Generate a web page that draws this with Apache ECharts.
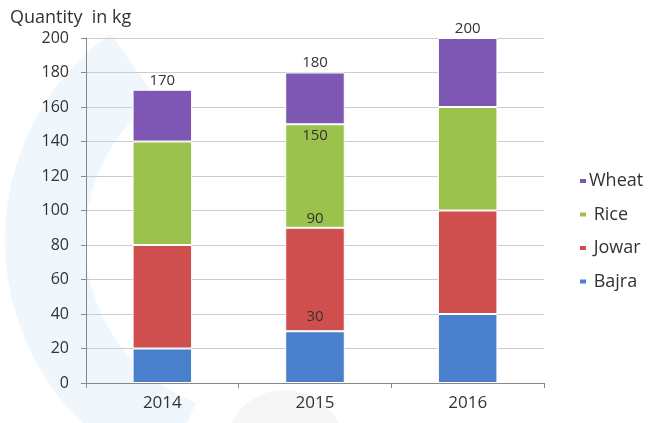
<!DOCTYPE html>
<html>
<head>
<meta charset="utf-8">
<script src="https://cdn.jsdelivr.net/npm/echarts@6/dist/echarts.min.js"></script>
<style>html,body{margin:0;padding:0;background:#fff;}#c{width:655px;height:423px;}</style>
</head>
<body>
<div id="c"></div>
<script>
var years = ['2014', '2015', '2016'];
var bajra = [20, 30, 40];
var jowar = [60, 60, 60];
var rice = [60, 60, 60];
var wheat = [30, 30, 40];
var totals = [170, 180, 200];
var yTicks = [0, 20, 40, 60, 80, 100, 120, 140, 160, 180, 200];

var font = 'Open Sans, Noto Sans, sans-serif';
var chart = echarts.init(document.getElementById('c'), null, {renderer: 'canvas'});

function cum(idx, arrs) { var s = 0; arrs.forEach(function(a){ s += a[idx]; }); return s; }

var labelStyle = {color: '#333', fontSize: 15, fontFamily: font};

var bajraData = bajra.map(function(v, i){
  if (i === 1) return {value: v, label: Object.assign({show: true, position: 'top', distance: 7, formatter: String(cum(i,[bajra]))}, labelStyle)};
  return v;
});
var jowarData = jowar.map(function(v, i){
  if (i === 1) return {value: v, label: Object.assign({show: true, position: 'top', distance: 2, formatter: String(cum(i,[bajra,jowar]))}, labelStyle)};
  return v;
});
var riceData = rice.map(function(v, i){
  if (i === 1) return {value: v, label: Object.assign({show: true, position: 'insideTop', distance: 4, formatter: String(cum(i,[bajra,jowar,rice]))}, labelStyle)};
  return v;
});
var wheatData = wheat.map(function(v, i){
  return {value: v, label: Object.assign({show: true, position: 'top', distance: 2, formatter: String(totals[i])}, labelStyle)};
});

var itemBorder = {borderColor: '#fff', borderWidth: 1};

chart.setOption({
  animation: false,
  backgroundColor: '#fff',
  graphic: [
    {type: 'arc', silent: true, z: -10, shape: {cx: 260, cy: 240, r: 215, startAngle: Math.PI*0.62, endAngle: Math.PI*1.3},
     style: {stroke: 'rgba(225,238,250,0.55)', lineWidth: 80, fill: null}},
    {type: 'circle', silent: true, z: -10, shape: {cx: 285, cy: 450, r: 60},
     style: {fill: 'rgba(240,240,242,0.6)'}}
  ],
  title: {
    text: 'Quantity  in kg', left: 5, top: 4,
    textStyle: {fontSize: 18, fontWeight: 'normal', color: '#333', fontFamily: font}
  },
  legend: {
    orient: 'vertical', left: 573, top: 166, itemGap: 13.5,
    itemWidth: 8, itemHeight: 6, icon: 'rect',
    data: ['Wheat', 'Rice', 'Jowar', 'Bajra'],
    formatter: function(n){ return n === 'Wheat' ? n : ' ' + n; },
    textStyle: {fontSize: 18, color: '#333', fontFamily: font, padding: [0,0,0,-3], lineHeight: 20}
  },
  grid: {left: 86, right: 111, top: 38, bottom: 40, containLabel: false},
  xAxis: {
    type: 'category', data: years,
    axisLine: {lineStyle: {color: '#888'}},
    axisTick: {show: true, alignWithLabel: false, lineStyle: {color: '#888'}, length: 5},
    axisLabel: {fontSize: 17, color: '#333', fontFamily: font, margin: 12}
  },
  yAxis: {
    type: 'value', min: 0, max: 200, interval: 20,
    axisLine: {show: true, lineStyle: {color: '#888'}},
    axisTick: {show: true, length: 5, lineStyle: {color: '#888'}},
    axisLabel: {fontSize: 16, color: '#333', fontFamily: font, margin: 17,
      formatter: function(v){ return yTicks.indexOf(v) >= 0 ? String(v) : ''; }},
    splitLine: {lineStyle: {color: '#ccc'}}
  },
  series: [
    {name: 'Bajra', type: 'bar', stack: 'a', barWidth: '39%', data: bajraData, itemStyle: Object.assign({color: '#4a7fcb'}, itemBorder)},
    {name: 'Jowar', type: 'bar', stack: 'a', data: jowarData, itemStyle: Object.assign({color: '#cf4f4e'}, itemBorder)},
    {name: 'Rice', type: 'bar', stack: 'a', data: riceData, itemStyle: Object.assign({color: '#9bc24c'}, itemBorder)},
    {name: 'Wheat', type: 'bar', stack: 'a', data: wheatData, itemStyle: Object.assign({color: '#7d57b3'}, itemBorder)}
  ]
});
</script>
</body>
</html>
